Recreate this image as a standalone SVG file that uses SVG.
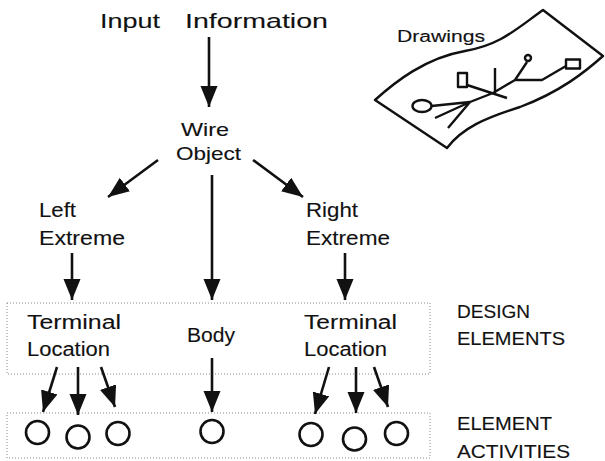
<svg xmlns="http://www.w3.org/2000/svg" width="605" height="461" viewBox="0 0 605 461">
  <style>
    text { font-family: "Liberation Sans", Arial, sans-serif; fill: #111; stroke: #111; stroke-width: 0.12; }
    .t21 { font-size: 21px; }
    .t20 { font-size: 20px; }
    .t19 { font-size: 19px; }
    .t18 { font-size: 18px; }
    .t16 { font-size: 16px; }
    .edge { stroke: #111; stroke-width: 2.6; fill: none; }
    .layer { fill: none; stroke: #8a8a8a; stroke-width: 1; stroke-dasharray: 1 2; }
    .act { fill: none; stroke: #111; stroke-width: 2.6; }
    .sketch { fill: none; stroke: #111; stroke-width: 2.4; stroke-linejoin: round; }
  </style>
  <defs>
    <marker id="head" markerUnits="userSpaceOnUse" markerWidth="24" markerHeight="20" refX="21" refY="8.5" orient="auto">
      <path d="M0,0 L21,8.5 L0,17 z" fill="#111"/>
    </marker>
  </defs>

  <rect width="605" height="461" fill="#fff"/>

  <!-- layer frames -->
  <rect class="layer" x="7" y="303" width="423" height="71"/>
  <rect class="layer" x="7" y="413" width="423" height="45"/>

  <!-- nodes -->
  <g id="input">
    <text class="t21" x="100" y="28" textLength="60" lengthAdjust="spacingAndGlyphs">Input</text>
    <text class="t21" x="185" y="28" textLength="143" lengthAdjust="spacingAndGlyphs">Information</text>
  </g>
  <g id="wire-object">
    <text class="t19" x="181" y="136" textLength="48" lengthAdjust="spacingAndGlyphs">Wire</text>
    <text class="t19" x="176" y="160" textLength="65" lengthAdjust="spacingAndGlyphs">Object</text>
  </g>
  <g id="left-extreme">
    <text class="t20" x="39" y="217" textLength="37" lengthAdjust="spacingAndGlyphs">Left</text>
    <text class="t20" x="39" y="245" textLength="86" lengthAdjust="spacingAndGlyphs">Extreme</text>
  </g>
  <g id="right-extreme">
    <text class="t20" x="306" y="217" textLength="52" lengthAdjust="spacingAndGlyphs">Right</text>
    <text class="t20" x="306" y="245" textLength="84" lengthAdjust="spacingAndGlyphs">Extreme</text>
  </g>
  <g id="left-terminal">
    <text class="t20" x="27" y="329" textLength="94" lengthAdjust="spacingAndGlyphs">Terminal</text>
    <text class="t20" x="27" y="356" textLength="83" lengthAdjust="spacingAndGlyphs">Location</text>
  </g>
  <g id="body">
    <text class="t20" x="187" y="342" textLength="48" lengthAdjust="spacingAndGlyphs">Body</text>
  </g>
  <g id="right-terminal">
    <text class="t20" x="304" y="329" textLength="93" lengthAdjust="spacingAndGlyphs">Terminal</text>
    <text class="t20" x="304" y="356" textLength="83" lengthAdjust="spacingAndGlyphs">Location</text>
  </g>
  <g id="design-elements">
    <text class="t18" x="457" y="318" textLength="73" lengthAdjust="spacingAndGlyphs">DESIGN</text>
    <text class="t18" x="457" y="345" textLength="108" lengthAdjust="spacingAndGlyphs">ELEMENTS</text>
  </g>
  <g id="element-activities">
    <text class="t18" x="457" y="430" textLength="95" lengthAdjust="spacingAndGlyphs">ELEMENT</text>
    <text class="t18" x="457" y="458" textLength="113" lengthAdjust="spacingAndGlyphs">ACTIVITIES</text>
  </g>
  <g id="activities">
    <circle class="act" cx="37.5" cy="432.5" r="11.5"/>
    <circle class="act" cx="78" cy="437" r="11.5"/>
    <circle class="act" cx="118" cy="433.5" r="11.5"/>
    <circle class="act" cx="212" cy="431.5" r="11.5"/>
    <circle class="act" cx="311" cy="434.5" r="11.5"/>
    <circle class="act" cx="354.5" cy="439" r="11.5"/>
    <circle class="act" cx="396.5" cy="433.5" r="11.5"/>
  </g>

  <!-- drawing sheet -->
  <g id="drawings">
    <path class="sketch" d="M375,100 C395,82 425,58 465,51 C500,45 515,30 543,10 L603,56 C585,72 560,92 520,107 C485,118 462,128 447,148 Z"/>
    <text class="t16" x="397" y="42" textLength="88" lengthAdjust="spacingAndGlyphs">Drawings</text>
    <ellipse class="sketch" cx="422" cy="106" rx="9.5" ry="6"/>
    <path class="sketch" d="M431.5,106 L470,102 M470,102 L435,118 M470,102 L448,128 M470,102 L493,93 L515,80 L527,62 M515,80 L542,80 L566,66 M495,68 L495,95 M467,85 L507,98"/>
    <rect class="sketch" x="458" y="73" width="9" height="14"/>
    <circle class="sketch" cx="528" cy="58" r="3"/>
    <rect class="sketch" x="566" y="59.5" width="14" height="9"/>
  </g>

  <!-- connectors -->
  <g id="connectors">
    <line class="edge" x1="209" y1="37" x2="209" y2="107" marker-end="url(#head)"/>
    <line class="edge" x1="158" y1="160" x2="108" y2="197" marker-end="url(#head)"/>
    <line class="edge" x1="253" y1="160" x2="303" y2="197" marker-end="url(#head)"/>
    <line class="edge" x1="212" y1="175" x2="212" y2="300" marker-end="url(#head)"/>
    <line class="edge" x1="72" y1="253" x2="72" y2="300" marker-end="url(#head)"/>
    <line class="edge" x1="345" y1="253" x2="345" y2="300" marker-end="url(#head)"/>
    <line class="edge" x1="57" y1="367" x2="43" y2="412" marker-end="url(#head)"/>
    <line class="edge" x1="78" y1="367" x2="78" y2="415" marker-end="url(#head)"/>
    <line class="edge" x1="101" y1="367" x2="115" y2="407" marker-end="url(#head)"/>
    <line class="edge" x1="212" y1="358" x2="212" y2="412" marker-end="url(#head)"/>
    <line class="edge" x1="329" y1="367" x2="315" y2="414" marker-end="url(#head)"/>
    <line class="edge" x1="356" y1="367" x2="356" y2="413" marker-end="url(#head)"/>
    <line class="edge" x1="374" y1="367" x2="388" y2="407" marker-end="url(#head)"/>
  </g>
</svg>
